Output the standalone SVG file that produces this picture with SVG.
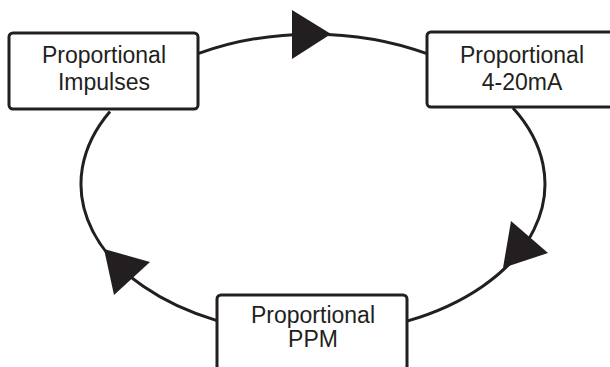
<svg xmlns="http://www.w3.org/2000/svg" width="610" height="367" viewBox="0 0 610 367">
<style>
.box{fill:#fff;stroke:#231f20;stroke-width:3}
.lbl{font-family:"Liberation Sans",Arial,sans-serif;font-size:23px;fill:#231f20;text-anchor:middle}
.arc{fill:none;stroke:#231f20;stroke-width:3}
.head{fill:#231f20;stroke:none}
</style>
<rect width="610" height="367" fill="#fff"/>
<g id="connectors">
<path class="arc" d="M198,53.7 A232,150 0 0 1 427,53.7"/>
<path class="arc" d="M513,108 A232,150 0 0 1 407,321.1"/>
<path class="arc" d="M217,320.6 A232,150 0 0 1 110,111.4"/>
<polygon class="head" points="292,10 292,59 331,34"/>
<polygon class="head" points="511,221 548,253 503,268"/>
<polygon class="head" points="104,249 150,262 114,295"/>
</g>
<g id="node-impulses">
<rect class="box" x="9" y="33" width="189" height="76" rx="4"/>
<text class="lbl" x="104" y="63">Proportional</text>
<text class="lbl" x="104" y="90">Impulses</text>
</g>
<g id="node-4-20ma">
<rect class="box" x="427" y="32" width="189" height="75" rx="4"/>
<text class="lbl" x="522" y="63">Proportional</text>
<text class="lbl" x="522" y="90">4-20mA</text>
</g>
<g id="node-ppm">
<rect class="box" x="217" y="295" width="190" height="90" rx="4"/>
<text class="lbl" x="313" y="323">Proportional</text>
<text class="lbl" x="313" y="347">PPM</text>
</g>
</svg>
